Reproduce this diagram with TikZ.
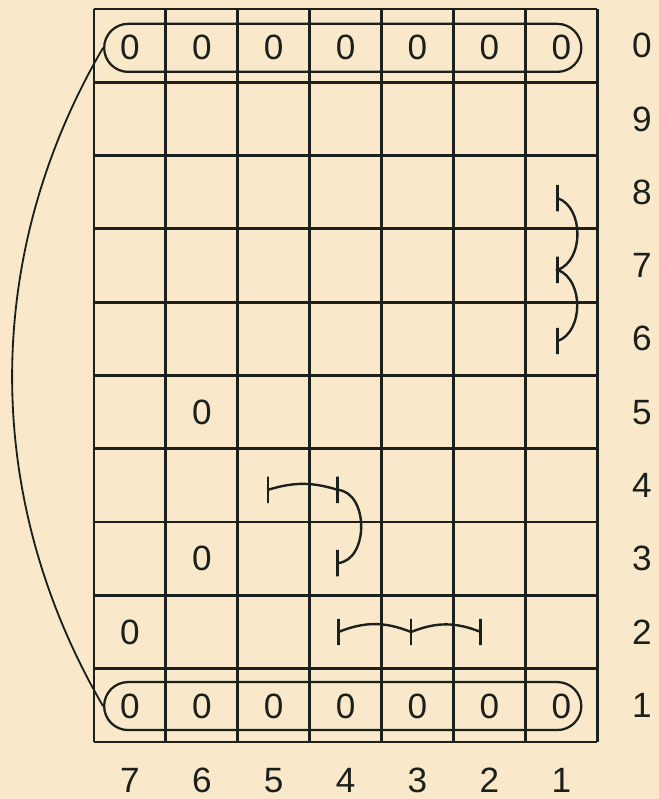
\documentclass[tikz,border=0pt]{standalone}
\usepackage{fontspec}
\setmainfont{Liberation Sans}
\usepackage{tikz}
\usetikzlibrary{arrows.meta,positioning,shapes.misc}
\definecolor{paper}{RGB}{249,233,202}
\definecolor{ink}{RGB}{28,32,28}

\begin{document}
\begin{tikzpicture}[x=1.7975cm,y=1.8325cm,
  every node/.style={font=\fontsize{25}{30}\selectfont,text=ink},
  ring/.style={draw=ink,line width=1.6pt,rounded rectangle,minimum width=11.93cm,minimum height=1.2cm,inner sep=0pt},
  tickmark/.style={draw=ink,line width=2pt,inner sep=0pt,minimum width=0pt,minimum height=0.66cm},
  link/.style={ink,line width=1.7pt}]
  \path[fill=paper,use as bounding box] (-1.307,-0.778) rectangle (7.858,10.123);
  \draw[ink,line width=2pt,step=1] (0,0) grid (7,10);
  % the two rows of holes
  \node[ring] (top) at (3.46,9.47) {};
  \node[ring] (bot) at (3.46,0.49) {};
  \foreach \i in {0,...,6} {
    \node (t\i) at (\i+0.5,9.47) {0};
    \node (b\i) at (\i+0.5,0.48) {0};
  }
  \draw[link,line width=1.3pt] (top.west) .. controls (-1.56,6.64) and (-1.56,3.33) .. (bot.west);
  % single holes
  \node (z65) at (1.5,4.5) {0};
  \node (z63) at (1.5,2.5) {0};
  \node (z72) at (0.5,1.5) {0};
  % ties
  \node[tickmark] (r8) at (6.45,7.42) {};
  \node[tickmark] (r7) at (6.45,6.44) {};
  \node[tickmark] (r6) at (6.45,5.47) {};
  \draw[link] (r8.center) to[bend left=70] (r7.center) to[bend left=70] (r6.center);
  \node[tickmark] (p54) at (2.42,3.44) {};
  \node[tickmark] (p44) at (3.39,3.44) {};
  \node[tickmark] (p43) at (3.39,2.44) {};
  \draw[link] (p54.center) to[bend left=17] (p44.center) to[bend left=85,looseness=1.1] (p43.center);
  \node[tickmark] (q42) at (3.40,1.50) {};
  \node[tickmark] (q32) at (4.41,1.50) {};
  \node[tickmark] (q22) at (5.38,1.50) {};
  \draw[link] (q42.center) to[bend left=22] (q32.center) to[bend left=22] (q22.center);
  % numbering
  \foreach \r [count=\j from 0] in {1,...,9,0}
    \node (row\r) at (7.62,\j+0.5) {\r};
  \foreach \c [count=\i from 0] in {7,6,...,1}
    \node (col\c) at (\i+0.5,-0.52) {\c};
\end{tikzpicture}
\end{document}
